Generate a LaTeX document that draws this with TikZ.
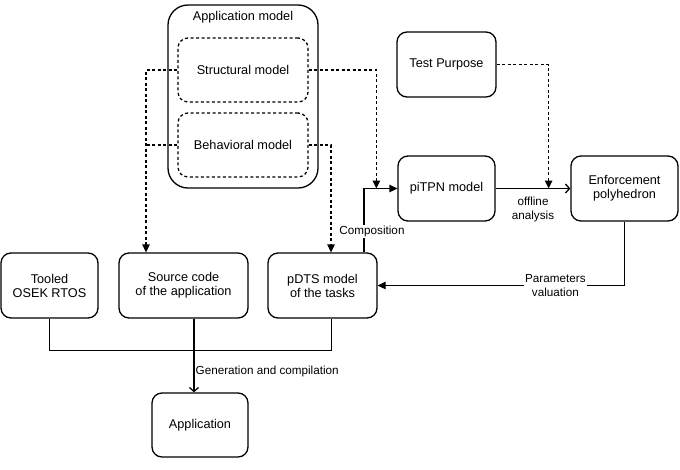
\documentclass[tikz,border=0pt]{standalone}
\usepackage{fontspec}
\setmainfont{Liberation Sans}
\usetikzlibrary{arrows.meta}
\begin{document}
\begin{tikzpicture}[x=1pt,y=-1pt,
    box/.style={draw,line width=1.3pt,rounded corners=10pt,align=center,inner sep=0pt,
      font=\fontsize{12.7}{14}\selectfont},
    dbox/.style={box,dash pattern=on 3pt off 2.5pt},
    lbl/.style={font=\fontsize{11.7}{14}\selectfont,align=center,fill=white,inner sep=1pt},
    dep/.style={line width=1.3pt,dash pattern=on 3pt off 2.5pt},
    flow/.style={line width=1.3pt},
    tip/.style={-{Triangle[length=8pt,width=7.5pt]}},
    opentip/.style={-{Straight Barb[length=4pt,width=9pt]}}]
  \useasboundingbox (0,0) rectangle (680,469);
  \node[box,rounded corners=20pt,minimum width=150,minimum height=183] (appmodel) at (243,96.5) {};
  \node[font=\fontsize{12.7}{14}\selectfont] (apptitle) at (243,17) {Application model};
  \node[dbox,minimum width=130,minimum height=64] (struct) at (243,70) {Structural model};
  \node[dbox,minimum width=130,minimum height=64] (behav) at (243,145) {Behavioral model};
  \node[box,minimum width=99,minimum height=65] (test) at (446.5,64.5) {Test Purpose};
  \node[box,minimum width=97,minimum height=65] (pitpn) at (446.5,188.5) {piTPN model};
  \node[box,minimum width=107,minimum height=65] (enf) at (624.5,188.5) {Enforcement\\polyhedron};
  \node[box,minimum width=97,minimum height=65] (tooled) at (49.5,285.5) {Tooled\\OSEK RTOS};
  \node[box,minimum width=129,minimum height=65] (source) at (183.5,285.5) {Source code\\of the application};
  \node[box,minimum width=109,minimum height=65] (pdts) at (322.5,285.5) {pDTS model\\of the tasks};
  \node[box,minimum width=96,minimum height=64] (appl) at (200,425) {Application};
  \coordinate (srcin) at ([xshift=-37.5pt]source.north);
  \coordinate (pdtsin) at ([xshift=8.5pt]pdts.north);
  \coordinate (pdtsout) at ([xshift=41.5pt]pdts.north);
  \coordinate (cmp) at ([xshift=-21pt]pitpn.west);
  \coordinate (ofl) at ([xshift=53pt]pitpn.east);
  \coordinate (gen) at ([xshift=10.5pt]source.south);
  \begin{scope}[dep]
    \draw[tip] (struct.west) -| (srcin);
    \draw (behav.west) -- (behav.west -| srcin);
    \draw[tip] (struct.east) -| (cmp);
    \draw[tip] (behav.east) -| (pdtsin);
    \draw[tip] (test.east) -| (ofl);
  \end{scope}
  \begin{scope}[flow]
    \draw[tip] (pdtsout) |- (pitpn.west) node[lbl,pos=0.16,xshift=8pt] {Composition};
    \draw[opentip] (pitpn.east) -- (enf.west) node[lbl,midway,below=7pt,fill=none] {offline\\analysis};
    \draw[tip] (enf.south) |- (pdts.east) node[lbl,pos=0.64] {Parameters\\valuation};
    \draw (tooled.south) -- ++(0,32) -| ([xshift=9pt]pdts.south);
    \draw[opentip] (gen) -- (gen |- appl.north) node[lbl,pos=0.72,right,fill=none] {Generation and compilation};
  \end{scope}
\end{tikzpicture}
\end{document}
